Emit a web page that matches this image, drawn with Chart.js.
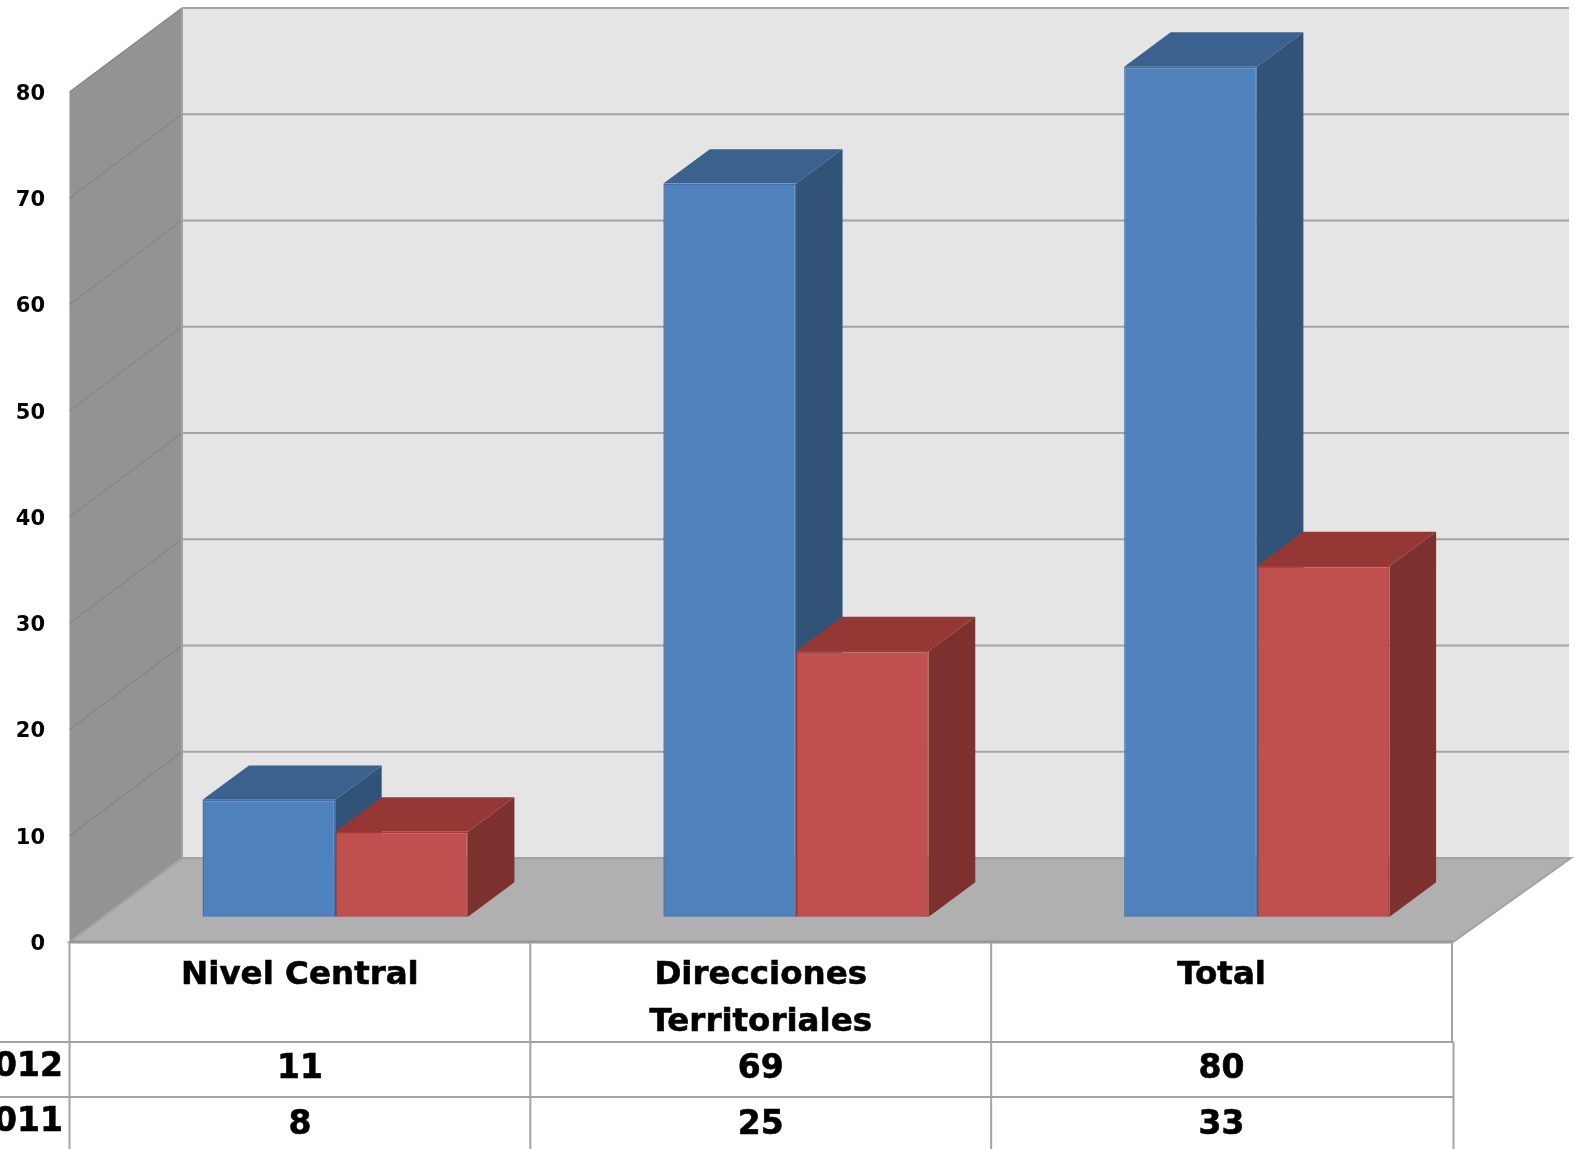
<!DOCTYPE html>
<html>
<head>
<meta charset="utf-8">
<title>Nivel Central / Direcciones Territoriales</title>
<script src="https://cdn.jsdelivr.net/npm/chart.js@4/dist/chart.umd.min.js"></script>
<style>
    html, body { margin: 0; padding: 0; background: #fff; overflow: hidden; }
    canvas { display: block; }
</style>
</head>
<body>
<canvas id="canvas" width="1575" height="1149"></canvas>
<script>
const categories = ['Nivel Central', ['Direcciones', 'Territoriales'], 'Total'];
const years = ['2012', '2011'];
const values2012 = [11, 69, 80];
const values2011 = [8, 25, 33];
const yTicks = [0, 10, 20, 30, 40, 50, 60, 70, 80];

const fontName = '"DejaVu Sans"';
const lineGrey = '#a3a3a3';

// walls, floor and the data table sit around the front plane of the axes
const walls = {
    id: 'walls',
    beforeDatasetsDraw(chart) {
        const ctx = chart.ctx;
        const y = chart.scales.y;
        const left = chart.chartArea.left, right = chart.chartArea.right;
        const backLeft = left + 112.5, backRight = right + 117;
        const depthY = -84;
        const y0 = y.getPixelForValue(0), yMax = y.getPixelForValue(80);

        // back wall
        ctx.fillStyle = '#e5e5e5';
        ctx.fillRect(backLeft, yMax + depthY, backRight - backLeft, y0 - yMax);
        // side wall
        ctx.fillStyle = '#939393';
        ctx.beginPath();
        ctx.moveTo(left, yMax);
        ctx.lineTo(backLeft, yMax + depthY);
        ctx.lineTo(backLeft, y0 + depthY);
        ctx.lineTo(left, y0);
        ctx.closePath();
        ctx.fill();
        // floor
        ctx.fillStyle = '#b0b0b0';
        ctx.beginPath();
        ctx.moveTo(left, y0);
        ctx.lineTo(backLeft, y0 + depthY);
        ctx.lineTo(backRight + 2, y0 + depthY);
        ctx.lineTo(right + 1, y0);
        ctx.closePath();
        ctx.fill();
        ctx.strokeStyle = lineGrey;
        ctx.lineWidth = 2;
        ctx.stroke();

        // gridlines, back wall and side wall
        yTicks.forEach(v => {
            const py = y.getPixelForValue(v);
            if (v > 0) {
                ctx.strokeStyle = '#878787';
                ctx.lineWidth = 1.5;
                ctx.beginPath();
                ctx.moveTo(left, py);
                ctx.lineTo(backLeft, py + depthY);
                ctx.stroke();
            }
            ctx.strokeStyle = lineGrey;
            ctx.lineWidth = 2;
            ctx.beginPath();
            ctx.moveTo(backLeft, py + depthY);
            ctx.lineTo(backRight, py + depthY);
            ctx.stroke();
        });
        ctx.strokeStyle = lineGrey;
        ctx.lineWidth = 2;
        ctx.beginPath();
        ctx.moveTo(backLeft, yMax + depthY);
        ctx.lineTo(backLeft, y0 + depthY);
        ctx.stroke();

        // front edge of the floor is a bit heavier
        ctx.strokeStyle = '#989898';
        ctx.lineWidth = 3;
        ctx.beginPath();
        ctx.moveTo(left, y0);
        ctx.lineTo(right + 1, y0);
        ctx.stroke();

        drawTable(chart, y0);
    }
};

function tableText(ctx, txt, x, y) {
    ctx.fillText(txt, x, y);
    ctx.strokeText(txt, x, y); // the source text is heavier than plain bold
}

function drawTable(chart, top) {
    const ctx = chart.ctx;
    const left = chart.chartArea.left, right = chart.chartArea.right;
    const x = chart.scales.x;
    const row1 = 1042, row2 = 1097, bottom = chart.height;
    const colW = (right - left) / categories.length;

    ctx.strokeStyle = lineGrey;
    ctx.lineWidth = 2;
    ctx.beginPath();
    for (let i = 0; i <= categories.length; i++) {
        ctx.moveTo(left + colW * i, top);
        ctx.lineTo(left + colW * i, i === categories.length ? row1 : bottom);
    }
    ctx.moveTo(right + 1.5, row1);
    ctx.lineTo(right + 1.5, bottom);
    ctx.moveTo(0, row1);
    ctx.lineTo(right + 1.5, row1);
    ctx.moveTo(0, row2);
    ctx.lineTo(right + 1.5, row2);
    ctx.stroke();

    ctx.fillStyle = '#000';
    ctx.strokeStyle = '#000';
    ctx.lineWidth = 0.6;
    ctx.font = 'bold 33px ' + fontName;
    ctx.textBaseline = 'middle';
    ctx.textAlign = 'right';
    tableText(ctx, years[0], 63, row1 + 25);
    tableText(ctx, years[1], 63, row2 + 25);
    ctx.textAlign = 'center';
    categories.forEach((c, i) => {
        const cx = x.getPixelForTick(i);
        tableText(ctx, values2012[i], cx, row1 + 27);
        tableText(ctx, values2011[i], cx, row2 + 28);
    });
}

// the bars stand on the floor, so they are shifted into the depth of the chart
const shiftX = 35.3, shiftY = -25.3;
const barDepthX = 46.5, barDepthY = -34.4;
const sideColors = ['#325378', '#7d312f'];
const topColors = ['#3b618f', '#953735'];

const bars3d = {
    id: 'bars3d',
    beforeDatasetsDraw(chart) {
        const ctx = chart.ctx;
        ctx.save();
        ctx.translate(shiftX, shiftY);
        chart.data.datasets.forEach((ds, d) => {
            chart.getDatasetMeta(d).data.forEach(bar => {
                const l = bar.x - bar.width / 2, r = bar.x + bar.width / 2;
                // side
                ctx.fillStyle = sideColors[d];
                ctx.beginPath();
                ctx.moveTo(r, bar.y);
                ctx.lineTo(r + barDepthX, bar.y + barDepthY);
                ctx.lineTo(r + barDepthX, bar.base + barDepthY);
                ctx.lineTo(r, bar.base);
                ctx.closePath();
                ctx.fill();
                // top
                ctx.fillStyle = topColors[d];
                ctx.beginPath();
                ctx.moveTo(l, bar.y);
                ctx.lineTo(l + barDepthX, bar.y + barDepthY);
                ctx.lineTo(r + barDepthX, bar.y + barDepthY);
                ctx.lineTo(r, bar.y);
                ctx.closePath();
                ctx.fill();
            });
        });
    },
    afterDatasetsDraw(chart) {
        chart.ctx.restore();
    }
};

var ctx = document.getElementById('canvas').getContext('2d');
let myChart = new Chart(ctx, {
    type: 'bar',
    data: {
        labels: categories,
        datasets: [{
            label: years[0],
            data: values2012,
            backgroundColor: '#4f81bd',
            borderColor: '#426fa8',
            borderWidth: 1.5,
            borderSkipped: false,
            clip: false
        }, {
            label: years[1],
            data: values2011,
            backgroundColor: '#c0504d',
            borderColor: '#a23c3a',
            borderWidth: 1.5,
            borderSkipped: false,
            clip: false
        }]
    },
    plugins: [walls, bars3d],
    options: {
        responsive: false,
        animation: false,
        devicePixelRatio: 1,
        layout: { padding: { top: 92, right: 123, left: 0, bottom: 0 } },
        plugins: { legend: { display: false }, tooltip: { enabled: false } },
        datasets: { bar: { categoryPercentage: 0.576, barPercentage: 1 } },
        scales: {
            x: {
                grid: { display: false, drawTicks: false },
                border: { display: false },
                afterFit: s => { s.height = 207; },
                ticks: {
                    color: '#000',
                    padding: 10,
                    maxRotation: 0,
                    autoSkip: false,
                    textStrokeColor: '#000',
                    textStrokeWidth: 0.6,
                    font: { family: fontName, size: 32.5, weight: 'bold', lineHeight: 1.446 }
                }
            },
            y: {
                min: 0,
                max: 80,
                grid: { display: false, drawTicks: false },
                border: { display: false },
                afterFit: s => { s.width = 69.5; },
                ticks: {
                    stepSize: 10,
                    color: '#000',
                    padding: 24.5,
                    labelOffset: 2.5,
                    font: { family: fontName, size: 21, weight: 'bold' }
                }
            }
        }
    }
});
</script>
</body>
</html>
